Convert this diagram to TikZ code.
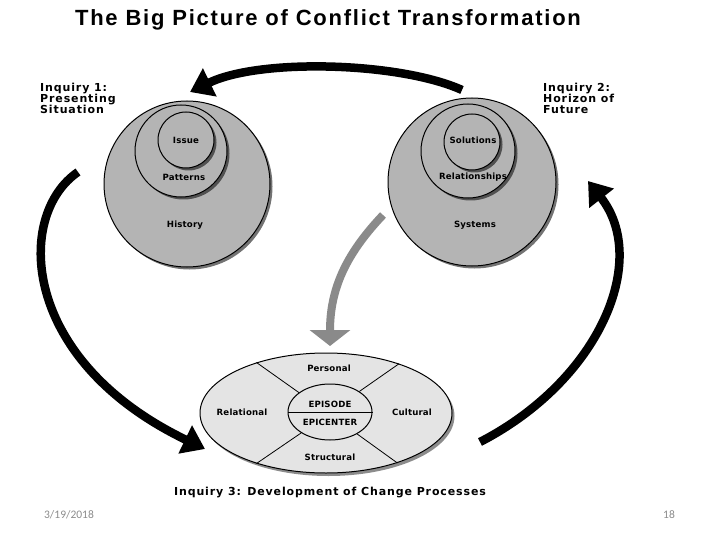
\documentclass[tikz,border=0pt]{standalone}
\usepackage{fontspec}
\setsansfont{Liberation Sans}
\newfontfamily\headfont[LetterSpace=8]{Liberation Sans}
\newfontfamily\inqfont[LetterSpace=8]{DejaVu Sans}
\newfontfamily\tagfont[LetterSpace=2]{DejaVu Sans}
\newfontfamily\footfont{Carlito}
\usetikzlibrary{arrows.meta,shapes.geometric,shadows}
\definecolor{cink}{HTML}{000000}
\definecolor{cring}{HTML}{B4B4B4}
\definecolor{cdisc}{HTML}{E4E4E4}
\definecolor{cfeed}{HTML}{8A8A8A}
\definecolor{cfoot}{HTML}{8C8C8C}

\begin{document}
\begin{tikzpicture}[
  x=1pt, y=-1pt,
  ring/.style={
    circle,
    draw=cink,
    fill=cring,
    line width=1pt,
    inner sep=0pt,
    drop shadow={shadow xshift=2.5pt, shadow yshift=-2.5pt, fill=black, opacity=0.55}
  },
  disc/.style={
    ellipse,
    draw=cink,
    fill=cdisc,
    line width=1pt,
    inner sep=0pt,
    drop shadow={shadow xshift=2.5pt, shadow yshift=-3pt, fill=black, opacity=0.45}
  },
  hub/.style={ellipse, draw=cink, fill=cdisc, line width=1pt, inner sep=0pt},
  spoke/.style={draw=cink, line width=0.8pt},
  tag/.style={font=\tagfont\bfseries\fontsize{8.6}{9}\selectfont, inner sep=1pt},
  inquiry/.style={font=\inqfont\bfseries\fontsize{11}{11}\selectfont, inner sep=0pt, align=left},
  title/.style={font=\headfont\bfseries\fontsize{22}{24}\selectfont, inner sep=0pt},
  footer/.style={font=\footfont\fontsize{11.5}{13}\selectfont, text=cfoot, inner sep=0pt},
  cycle flow/.style={draw=cink, line width=8.5pt, -{Triangle[length=22pt, width=30pt]}},
  feed flow/.style={draw=cfeed, line width=8pt, -{Triangle[length=16pt, width=40pt]}}
]
\useasboundingbox[fill=white] (0,0) rectangle (720,540);

\node[title] (title) at (328,20) {The Big Picture of Conflict Transformation};

% Inquiry 1: presenting situation
\node[ring, minimum size=166pt] (history) at (187,184) {};
\node[ring, minimum size=92pt] (patterns) at (181,151) {};
\node[ring, minimum size=56pt] (issue) at (186,140) {};
\node[tag] at (186,140) {Issue};
\node[tag] at (184,177) {Patterns};
\node[tag] at (185,225) {History};
\node[inquiry, anchor=north west] (inq one) at (40,83) {Inquiry 1:\\Presenting\\Situation};

% Inquiry 2: horizon of future
\node[ring, minimum size=168pt] (systems) at (472,182) {};
\node[ring, minimum size=94pt] (relationships) at (468,151) {};
\node[ring, minimum size=56pt] (solutions) at (472,142) {};
\node[tag] at (473,140) {Solutions};
\node[tag] at (473,177) {Relationships};
\node[tag] at (475,225) {Systems};
\node[inquiry, anchor=north west] (inq two) at (543,83) {Inquiry 2:\\Horizon of\\Future};

% Inquiry 3: change processes
\node[disc, minimum width=252pt, minimum height=120pt] (change) at (326,413) {};
\node[hub, minimum width=84pt, minimum height=56pt] (epicore) at (330,412) {};
\draw[spoke] (epicore.west) -- (epicore.east);
\foreach \i/\o in {148/144, 35/34, 216/216, 321/325}
  \draw[spoke] (epicore.\i) -- (change.\o);
\node[tag] at (329,368) {Personal};
\node[tag] at (242,412) {Relational};
\node[tag] at (412,412) {Cultural};
\node[tag] at (330,457) {Structural};
\node[tag] at (330,404) {EPISODE};
\node[tag] at (330,422) {EPICENTER};
\node[inquiry] (inq three) at (330,493) {Inquiry 3: Development of Change Processes};

% cycle arrows
\coordinate (top start) at (462,90);
\coordinate (top end) at (190,92);
\coordinate (left start) at (78,172);
\coordinate (left end) at (205,449);
\coordinate (right start) at (480,442);
\coordinate (right end) at (588,181);
\coordinate (feed start) at (383,215);
\coordinate (feed end) at (330,346);

\draw[cycle flow] (top start) .. controls (400,62) and (260,58) .. (top end);
\draw[cycle flow] (left start) .. controls (15,215) and (20,360) .. (left end);
\draw[cycle flow] (right start) .. controls (600,380) and (650,260) .. (right end);
\draw[feed flow] (feed start) .. controls (345,255) and (330,290) .. (feed end);

\node[footer] (date) at (69,515) {3/19/2018};
\node[footer] (page) at (669,515) {18};

\end{tikzpicture}
\end{document}
